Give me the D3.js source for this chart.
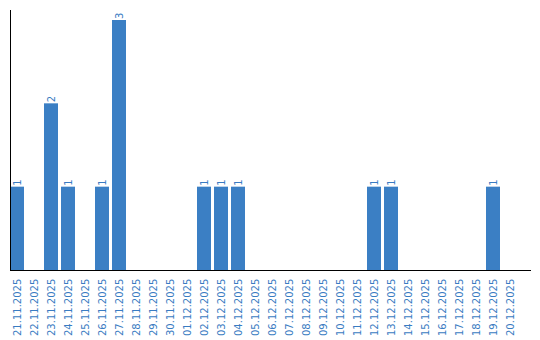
<!DOCTYPE html>
<html>
<head>
<meta charset="utf-8">
<script src="https://cdn.jsdelivr.net/npm/d3@7"></script>
<style>
  body { margin: 0; background: #fff; }
  text { font-family: "DejaVu Sans", Verdana, sans-serif; }
</style>
</head>
<body>
<div id="chart"></div>
<script>
// dates shown on the x axis
var dates = ["21.11.2025", "22.11.2025", "23.11.2025", "24.11.2025", "25.11.2025",
  "26.11.2025", "27.11.2025", "28.11.2025", "29.11.2025", "30.11.2025",
  "01.12.2025", "02.12.2025", "03.12.2025", "04.12.2025", "05.12.2025",
  "06.12.2025", "07.12.2025", "08.12.2025", "09.12.2025", "10.12.2025",
  "11.12.2025", "12.12.2025", "13.12.2025", "14.12.2025", "15.12.2025",
  "16.12.2025", "17.12.2025", "18.12.2025", "19.12.2025", "20.12.2025"];

// count per day
var counts = [1, 0, 2, 1, 0, 1, 3, 0, 0, 0,
  0, 1, 1, 1, 0, 0, 0, 0, 0, 0,
  0, 1, 1, 0, 0, 0, 0, 0, 1, 0];

var svgWidth = 540;
var svgHeight = 340;
var barColor = "#3b7fc4";
var textColor = "#3a7cc2";

var margin = { top: 20, left: 10, bottom: 70 };
var baseY = svgHeight - margin.bottom;

var svg = d3.select("#chart")
  .append("svg")
  .attr("width", svgWidth)
  .attr("height", svgHeight);

var data = dates.map(function(d, i) { return { date: d, value: counts[i] }; });

// 17px per day, bar 14px wide, no outer padding
var x = d3.scaleBand()
  .domain(dates)
  .range([margin.left, margin.left + dates.length * 17 - 3])
  .paddingInner(3 / 17)
  .paddingOuter(0);

var y = d3.scaleLinear()
  .domain([0, d3.max(counts)])
  .range([baseY, margin.top]);

// bars
svg.selectAll("rect.bar")
  .data(data.filter(function(d) { return d.value > 0; }))
  .enter()
  .append("rect")
  .attr("class", "bar")
  .attr("x", d => x(d.date))
  .attr("y", d => y(d.value))
  .attr("width", x.bandwidth())
  .attr("height", d => baseY - y(d.value))
  .attr("fill", barColor);

// value labels above bars
svg.selectAll("text.val")
  .data(data.filter(function(d) { return d.value > 0; }))
  .enter()
  .append("text")
  .attr("class", "val")
  .attr("transform", d => `translate(${x(d.date) + x.bandwidth() / 2 + 3.5}, ${y(d.value) - 1}) rotate(-90)`)
  .attr("font-size", 10)
  .attr("fill", textColor)
  .text(d => d.value);

// x axis labels, rotated
svg.selectAll("text.date")
  .data(dates)
  .enter()
  .append("text")
  .attr("class", "date")
  .attr("transform", d => `translate(${x(d) + x.bandwidth() / 2 + 3.5}, ${baseY + 66}) rotate(-90)`)
  .attr("font-size", 10)
  .attr("fill", textColor)
  .text(d => d);

// axis lines
svg.append("line")
  .attr("x1", 10.5).attr("x2", 10.5)
  .attr("y1", 10).attr("y2", baseY)
  .attr("stroke", "#000");

svg.append("line")
  .attr("x1", 10).attr("x2", 531)
  .attr("y1", baseY + 0.5).attr("y2", baseY + 0.5)
  .attr("stroke", "#000");
</script>
</body>
</html>
